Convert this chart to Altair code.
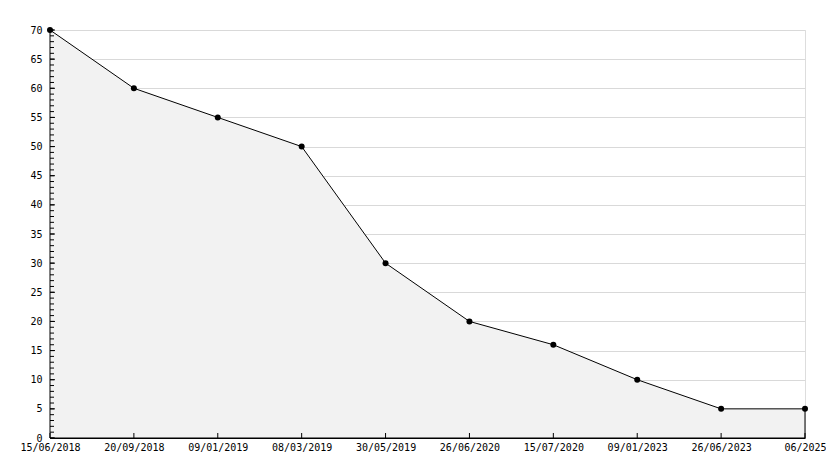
import altair as alt
import pandas as pd

dates = ["15/06/2018", "20/09/2018", "09/01/2019", "08/03/2019", "30/05/2019",
         "26/06/2020", "15/07/2020", "09/01/2023", "26/06/2023", "06/2025"]
values = [70, 60, 55, 50, 30, 20, 16, 10, 5, 5]
major_ticks = list(range(0, 71, 5))
minor_ticks = list(range(0, 71, 1))

df = pd.DataFrame({"date": dates, "value": values})
minor_df = pd.DataFrame({"value": minor_ticks})
major_df = pd.DataFrame({"value": major_ticks})
xtick_df = pd.DataFrame({"date": dates})

FONT = "DejaVu Sans Mono"
PLOT_W, PLOT_H = 755, 408
xscale = alt.Scale(type="point", padding=0, domain=dates)
yscale = alt.Scale(domain=[0, 70], nice=False, zero=True)

xaxis = alt.Axis(title=None, orient="bottom", labelAngle=0, ticks=False, tickSize=0,
                 labelPadding=4, domainColor="black", labelColor="black", labelFont=FONT,
                 labelFontSize=10, grid=False, labelOverlap=False)
yaxis = alt.Axis(title=None, orient="left", values=major_ticks, ticks=False, tickSize=0,
                 labelPadding=8, domainColor="black", labelColor="black", labelFont=FONT,
                 labelFontSize=10, grid=True, gridColor="#d9d9d9", labelOverlap=False)

X = alt.X("date:O", sort=None, scale=xscale, axis=xaxis)
Y = alt.Y("value:Q", scale=yscale, axis=yaxis)

area = alt.Chart(df).mark_area(fill="#f2f2f2", stroke="black", strokeWidth=1,
                               interpolate="linear").encode(x=X, y=Y)

points = alt.Chart(df).mark_point(filled=True, color="black", size=36, opacity=1,
                                  shape="circle").encode(x=X, y=Y)

minor = alt.Chart(minor_df).mark_rule(color="black", strokeWidth=1).encode(
    y=Y, x=alt.value(0), x2=alt.value(4),
)

major = alt.Chart(major_df).mark_rule(color="black", strokeWidth=1).encode(
    y=Y, x=alt.value(0), x2=alt.value(5),
)

xticks = alt.Chart(xtick_df).mark_rule(color="black", strokeWidth=1).encode(
    x=X, y=alt.value(PLOT_H), y2=alt.value(PLOT_H - 5),
)

chart = alt.layer(area, minor, major, xticks, points).properties(
    width=PLOT_W, height=PLOT_H,
    autosize=alt.AutoSizeParams(type="none"),
    padding={"left": 42, "top": 22, "right": 21, "bottom": 22},
).configure_view(stroke=None).configure(background="white")

chart.save("out.html", embed_options={"renderer": "svg", "actions": False})
